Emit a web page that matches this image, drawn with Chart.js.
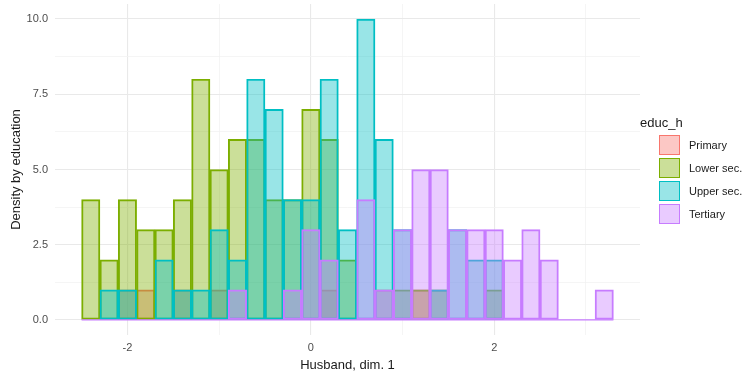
<!DOCTYPE html>
<html>
<head>
<meta charset="utf-8">
<title>Density by education</title>
<script src="https://cdn.jsdelivr.net/npm/chart.js"></script>
<style>
  html, body { margin: 0; padding: 0; background: #fff; }
  #wrap { position: relative; width: 746px; height: 375px; font-family: "Liberation Sans", Arial, sans-serif; }
  #legend { position: absolute; left: 640px; top: 115px; color: #1a1a1a; }
  #legend .title { font-size: 13px; line-height: 16px; height: 20px; }
  #legend .row { display: flex; align-items: center; height: 20px; margin-bottom: 3px; }
  #legend .key { box-sizing: border-box; width: 21px; height: 20px; margin-left: 19px; border: 1.5px solid; }
  #legend .lab { font-size: 11px; margin-left: 9px; }
</style>
</head>
<body>
<div id="wrap">
  <canvas id="chart" width="746" height="375"></canvas>
  <div id="legend"></div>
</div>
<script>
// histogram bins (centre of each 0.2 wide bin)
const binWidth = 0.2;
const binCenters = [
  -2.4, -2.2, -2.0, -1.8, -1.6, -1.4, -1.2, -1.0, -0.8, -0.6,
  -0.4, -0.2, 0.0, 0.2, 0.4, 0.6, 0.8, 1.0, 1.2, 1.4,
  1.6, 1.8, 2.0, 2.2, 2.4, 2.6, 2.8, 3.0, 3.2,
];

const groups = ["Primary", "Lower sec.", "Upper sec.", "Tertiary"];
const groupColors = ["#F8766D", "#7CAE00", "#00BFC4", "#C77CFF"];

const primary  = [0, 0, 1, 1, 0, 1, 0, 1, 0, 0, 0, 0, 0, 1, 0, 0, 1, 0, 1, 0, 0, 0, 0, 0, 0, 0, 0, 0, 0];
const lowerSec = [4, 2, 4, 3, 3, 4, 8, 5, 6, 6, 4, 4, 7, 6, 2, 0, 0, 1, 1, 1, 0, 0, 1, 0, 0, 0, 0, 0, 0];
const upperSec = [0, 1, 1, 0, 2, 1, 1, 3, 2, 8, 7, 4, 4, 8, 3, 10, 6, 3, 0, 1, 3, 2, 2, 0, 0, 0, 0, 0, 0];
const tertiary = [0, 0, 0, 0, 0, 0, 0, 0, 1, 0, 0, 1, 3, 2, 0, 4, 1, 3, 5, 5, 3, 3, 3, 2, 3, 2, 0, 0, 1];

const xTicks = [-2, 0, 2];
const yTicks = [0, 2.5, 5, 7.5, 10];

const seriesValues = [primary, lowerSec, upperSec, tertiary];

function alpha(hex, a) {
  const n = parseInt(hex.slice(1), 16);
  return `rgba(${(n >> 16) & 255}, ${(n >> 8) & 255}, ${n & 255}, ${a})`;
}

const FONT = "'Liberation Sans', Arial, sans-serif";

const barSets = groups.map((name, i) => ({
  type: "bar",
  label: name,
  data: binCenters.map((x, j) => ({ x: x, y: seriesValues[i][j] })),
  backgroundColor: alpha(groupColors[i], 0.4),
  borderColor: groupColors[i],
  borderWidth: 1.3,
  borderSkipped: false,
  barPercentage: 1,
  categoryPercentage: 1,
  grouped: false,
  order: groups.length - i,
}));

// zero-height outline of the last group along the bottom of all bins
const baseline = {
  type: "line",
  label: "baseline",
  data: [
    { x: binCenters[0] - binWidth / 2, y: 0 },
    { x: binCenters[binCenters.length - 1] + binWidth / 2, y: 0 },
  ],
  borderColor: groupColors[3],
  borderWidth: 1.3,
  pointRadius: 0,
  order: 0,
};

const xMin = binCenters[0] - binWidth / 2;
const xMax = binCenters[binCenters.length - 1] + binWidth / 2;
const xPad = (xMax - xMin) * 0.05;

new Chart(document.getElementById("chart").getContext("2d"), {
  data: { datasets: [...barSets, baseline] },
  options: {
    responsive: false,
    animation: false,
    devicePixelRatio: 1,
    layout: { padding: { top: 4, right: 106, left: 0, bottom: 0 } },
    plugins: {
      legend: { display: false },
      tooltip: { enabled: false },
    },
    scales: {
      x: {
        type: "linear",
        offset: false,
        min: xMin - xPad,
        max: xMax + xPad,
        border: { display: false },
        grid: {
          offset: false,
          drawTicks: false,
          color: (c) => (xTicks.includes(c.tick.value) ? "#e9e9e9" : "#f2f2f2"),
          lineWidth: (c) => (xTicks.includes(c.tick.value) ? 1.1 : 0.8),
        },
        ticks: {
          stepSize: 1,
          includeBounds: false,
          padding: 6,
          color: "#4d4d4d",
          font: { family: FONT, size: 11 },
          callback: (v) => (xTicks.includes(v) ? String(v) : ""),
        },
        title: {
          display: true,
          text: "Husband, dim. 1",
          color: "#1a1a1a",
          font: { family: FONT, size: 13 },
          padding: { top: 0, bottom: 2 },
        },
        afterFit: (scale) => {
          scale.height = 40;
          scale.paddingLeft = 0;
          scale.paddingRight = 0;
        },
      },
      y: {
        type: "linear",
        min: -0.5,
        max: 10.5,
        border: { display: false },
        grid: {
          drawTicks: false,
          color: (c) => (yTicks.includes(c.tick.value) ? "#e9e9e9" : "#f2f2f2"),
          lineWidth: (c) => (yTicks.includes(c.tick.value) ? 1.1 : 0.8),
        },
        ticks: {
          stepSize: 1.25,
          includeBounds: false,
          padding: 7,
          color: "#4d4d4d",
          font: { family: FONT, size: 11 },
          callback: (v) => (yTicks.includes(v) ? v.toFixed(1) : ""),
        },
        title: {
          display: true,
          text: "Density by education",
          color: "#1a1a1a",
          font: { family: FONT, size: 13 },
          padding: { top: 9, bottom: 0 },
        },
        afterFit: (scale) => {
          scale.width = 55;
          scale.paddingTop = 0;
          scale.paddingBottom = 0;
        },
      },
    },
  },
});

// legend on the right, like ggplot's guide
const legend = document.getElementById("legend");
legend.innerHTML =
  '<div class="title">educ_h</div>' +
  groups
    .map(
      (name, i) =>
        `<div class="row"><span class="key" style="background:${alpha(groupColors[i], 0.4)};border-color:${groupColors[i]}"></span><span class="lab">${name}</span></div>`,
    )
    .join("");
</script>
</body>
</html>
